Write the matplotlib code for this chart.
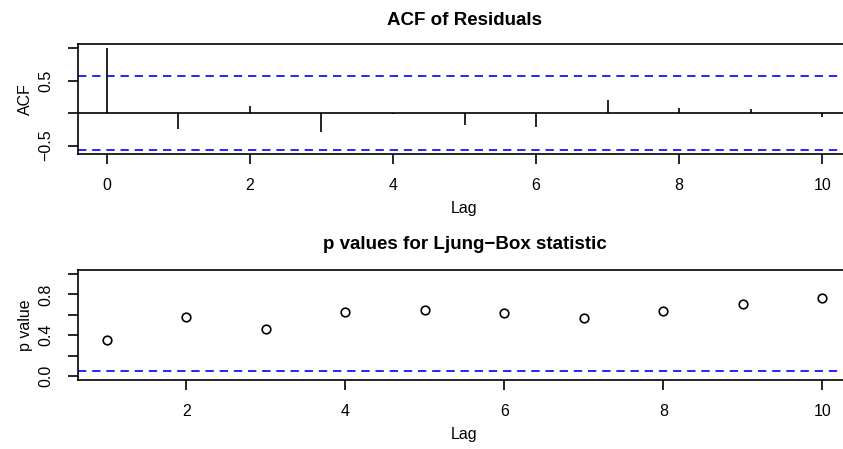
import matplotlib
matplotlib.use("Agg")
import matplotlib.pyplot as plt

# residual ACF (lag 0..10)
acf_lags = [0, 1, 2, 3, 4, 5, 6, 7, 8, 9, 10]
acf_vals = [1.0, -0.248, 0.117, -0.289, -0.01, -0.187, -0.213, 0.198, 0.082, 0.056, -0.066]
acf_clim = 0.566

# Ljung-Box p values (lag 1..10)
lb_lags = [1, 2, 3, 4, 5, 6, 7, 8, 9, 10]
lb_pvals = [0.355, 0.576, 0.456, 0.624, 0.648, 0.618, 0.566, 0.638, 0.709, 0.761]
lb_level = 0.05

plt.rcParams['font.family'] = ['Liberation Sans', 'DejaVu Sans']
plt.rcParams['font.size'] = 11.5

DASH = (0, (5, 3.5))
LW = 1.2

fig = plt.figure(figsize=(8.43, 4.49), dpi=100)

def style_axes(ax):
    for s in ax.spines.values():
        s.set_linewidth(LW)
    ax.tick_params(direction='out', length=7.5, width=LW, pad=10, labelsize=11.5)
    for lab in ax.get_yticklabels():
        lab.set_rotation(90)
        lab.set_va('center')

# --- top panel: ACF of residuals
ax1 = fig.add_axes([78/843, 1 - 154/449, (851 - 78)/843, 110/449])
ax1.vlines(acf_lags, 0, acf_vals, color='black', lw=LW)
ax1.axhline(0, color='black', lw=LW)
ax1.axhline(acf_clim, color='blue', lw=LW, linestyle=DASH)
ax1.axhline(-acf_clim, color='blue', lw=LW, linestyle=DASH)
ax1.set_xlim(-0.4, 10.4)
ax1.set_ylim(-0.629, 1.063)
ax1.set_xticks([0, 2, 4, 6, 8, 10])
ax1.set_yticks([-0.5, 0, 0.5, 1.0])
ax1.set_yticklabels(['\u22120.5', '', '0.5', ''])
ax1.set_xlabel('Lag', labelpad=5.5)
ax1.set_ylabel('ACF', labelpad=4)
ax1.set_title('ACF of Residuals', fontweight='bold', fontsize=13.5, pad=14)
style_axes(ax1)

# --- bottom panel: Ljung-Box p values
ax2 = fig.add_axes([78/843, 1 - 380/449, (851 - 78)/843, 110/449])
ax2.plot(lb_lags, lb_pvals, 'o', mfc='none', mec='black', ms=6.2, mew=LW)
ax2.axhline(lb_level, color='blue', lw=LW, linestyle=DASH)
ax2.set_xlim(0.64, 10.36)
ax2.set_ylim(-0.04, 1.04)
ax2.set_xticks([2, 4, 6, 8, 10])
ax2.set_yticks([0, 0.2, 0.4, 0.6, 0.8, 1.0])
ax2.set_yticklabels(['0.0', '', '0.4', '', '0.8', ''])
ax2.set_xlabel('Lag', labelpad=5.5)
ax2.set_ylabel('p value', labelpad=4)
ax2.set_title('p values for Ljung\u2212Box statistic', fontweight='bold', fontsize=13.5, pad=15)
style_axes(ax2)

fig.savefig('out.png', dpi=100)
